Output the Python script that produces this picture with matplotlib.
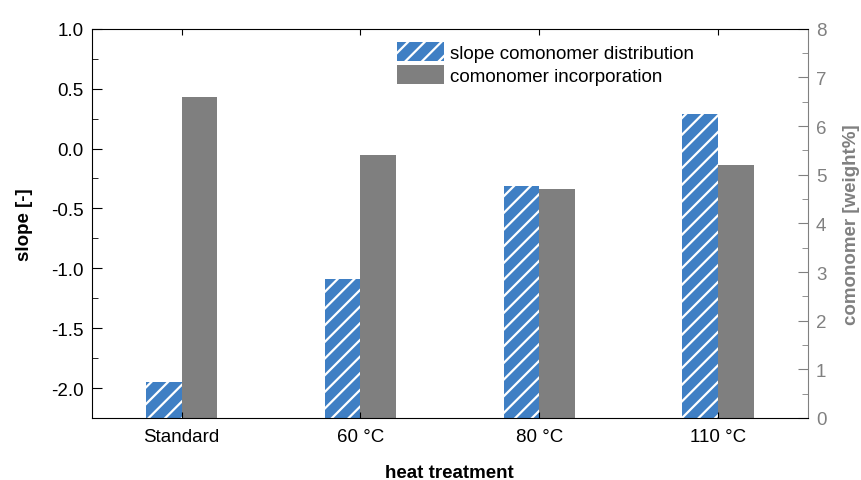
import matplotlib.pyplot as plt
import numpy as np
from matplotlib.ticker import MultipleLocator

# Data
treatments = ['Standard', '60 °C', '80 °C', '110 °C']
slope = [-1.95, -1.09, -0.31, 0.29]          # slope comonomer distribution [-]
comonomer = [6.6, 5.4, 4.7, 5.2]             # comonomer incorporation [weight%]

blue = '#3F7FC4'
grey = '#7F7F7F'
axis_grey = '#808080'

plt.rcParams['font.family'] = ['Liberation Sans', 'DejaVu Sans']
plt.rcParams['axes.unicode_minus'] = False
plt.rcParams['hatch.linewidth'] = 1.6

fs = 13.5

fig = plt.figure(figsize=(8.61, 4.81), dpi=100)
ax = fig.add_axes([0.107, 0.129, 0.831, 0.809])
ax2 = ax.twinx()

x = np.arange(len(treatments))
w = 0.2
y_bottom = -2.25

# slope bars start at the bottom of the left axis
b1 = ax.bar(x - w / 2, np.array(slope) - y_bottom, w, bottom=y_bottom,
            color=blue, edgecolor='white', linewidth=0, hatch='//',
            label='slope comonomer distribution')
b2 = ax2.bar(x + w / 2, comonomer, w, color=grey, linewidth=0,
             label='comonomer incorporation')

ax.set_xlim(-0.5, 3.5)
ax.set_ylim(y_bottom, 1.0)
ax2.set_ylim(0, 8)

ax.set_xticks(x)
ax.set_xticklabels(treatments)
ax.yaxis.set_major_locator(MultipleLocator(0.5))
ax.yaxis.set_minor_locator(MultipleLocator(0.25))
ax2.yaxis.set_major_locator(MultipleLocator(1))
ax2.yaxis.set_minor_locator(MultipleLocator(0.5))

ax.tick_params(axis='x', which='both', direction='in', top=True, length=4, labelsize=fs, pad=7)
ax.tick_params(axis='y', which='major', direction='in', length=7, labelsize=fs, pad=6)
ax.tick_params(axis='y', which='minor', direction='in', length=4)
ax.tick_params(axis='y', which='both', right=False)

ax2.tick_params(axis='y', which='major', direction='in', length=7, labelsize=fs,
                colors=axis_grey, pad=6)
ax2.tick_params(axis='y', which='minor', direction='in', length=4, colors=axis_grey)

for s in ['left', 'top', 'bottom']:
    ax2.spines[s].set_visible(False)
ax.spines['right'].set_visible(False)
ax2.spines['right'].set_color(axis_grey)

ax.set_xlabel('heat treatment', fontsize=fs, fontweight='bold', labelpad=14)
ax.set_ylabel('slope [-]', fontsize=fs, fontweight='bold', labelpad=13)
ax2.set_ylabel('comonomer [weight%]', fontsize=fs, fontweight='bold', color=axis_grey, labelpad=12)

ax2.set_zorder(ax.get_zorder() - 1)
ax.patch.set_visible(False)

fig.legend([b1, b2], ['slope comonomer distribution', 'comonomer incorporation'],
           loc='upper left', bbox_to_anchor=(397 / 861, 1 - 43 / 481),
           frameon=False, fontsize=fs, borderpad=0, borderaxespad=0,
           handlelength=2.5, handleheight=1.2, labelspacing=0.15, handletextpad=0.3)

fig.savefig('out.png', dpi=100)
